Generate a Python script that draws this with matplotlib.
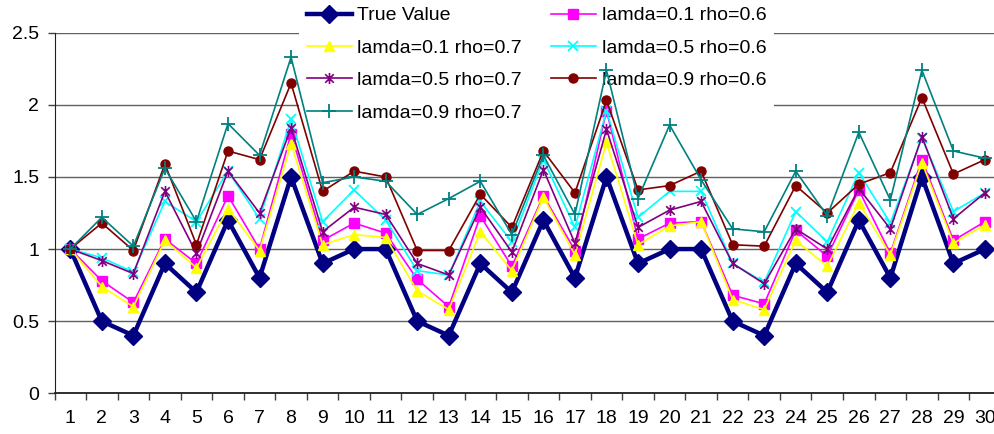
import numpy as np
import matplotlib
matplotlib.use("Agg")
from matplotlib import pyplot as plt
from matplotlib.path import Path

plt.rcParams['font.family'] = ['Liberation Sans', 'DejaVu Sans']

x = np.arange(1, 31)

true_value = [1, .5, .4, .9, .7, 1.2, .8, 1.5, .9, 1, 1, .5, .4, .9, .7, 1.2, .8, 1.5, .9, 1,
              1, .5, .4, .9, .7, 1.2, .8, 1.5, .9, 1]
l01_r06 = [1.0, 0.78, 0.63, 1.07, 0.90, 1.37, 1.0, 1.80, 1.06, 1.18, 1.11, 0.79, 0.60, 1.23, 0.88,
           1.37, 0.99, 1.96, 1.07, 1.18, 1.19, 0.68, 0.62, 1.13, 0.95, 1.41, 0.97, 1.62, 1.06, 1.19]
l01_r07 = [1.0, 0.74, 0.60, 1.06, 0.87, 1.28, 0.99, 1.73, 1.03, 1.10, 1.08, 0.71, 0.58, 1.12, 0.85,
           1.36, 0.96, 1.74, 1.03, 1.16, 1.19, 0.65, 0.58, 1.06, 0.88, 1.32, 0.96, 1.60, 1.04, 1.17]
l05_r06 = [1.0, 0.94, 0.84, 1.33, 1.19, 1.54, 1.21, 1.90, 1.19, 1.41, 1.20, 0.85, 0.82, 1.33, 1.05,
           1.62, 1.15, 1.96, 1.22, 1.40, 1.40, 0.90, 0.77, 1.26, 1.05, 1.53, 1.18, 1.77, 1.26, 1.39]
l05_r07 = [1.0, 0.92, 0.83, 1.40, 0.97, 1.54, 1.25, 1.84, 1.12, 1.29, 1.24, 0.90, 0.82, 1.29, 0.98,
           1.55, 1.04, 1.83, 1.15, 1.27, 1.33, 0.90, 0.76, 1.14, 1.00, 1.42, 1.14, 1.78, 1.21, 1.39]
l09_r06 = [1.0, 1.18, 0.99, 1.59, 1.03, 1.68, 1.62, 2.15, 1.40, 1.54, 1.50, 0.99, 0.99, 1.38, 1.15,
           1.68, 1.39, 2.03, 1.41, 1.44, 1.54, 1.03, 1.02, 1.44, 1.25, 1.45, 1.53, 2.05, 1.52, 1.62]
l09_r07 = [1.0, 1.22, 1.02, 1.56, 1.19, 1.87, 1.65, 2.33, 1.46, 1.50, 1.47, 1.24, 1.35, 1.47, 1.10,
           1.65, 1.24, 2.24, 1.35, 1.86, 1.48, 1.14, 1.12, 1.54, 1.23, 1.81, 1.34, 2.24, 1.68, 1.63]

# asterisk: x plus a vertical bar
star = Path([(-1, -1), (1, 1), (-1, 1), (1, -1), (0, -1.3), (0, 1.3)],
            [Path.MOVETO, Path.LINETO, Path.MOVETO, Path.LINETO, Path.MOVETO, Path.LINETO])

series = [
	("True Value", true_value, dict(color='#000080', marker='D', ms=9, lw=3.2)),
	("lamda=0.1 rho=0.6", l01_r06, dict(color='#FF00FF', marker='s', ms=6.5, lw=1.2)),
	("lamda=0.1 rho=0.7", l01_r07, dict(color='#FFFF00', marker='^', ms=7.5, lw=1.2)),
	("lamda=0.5 rho=0.6", l05_r06, dict(color='#00FFFF', marker='x', ms=7, mew=1.3, lw=1.2)),
	("lamda=0.5 rho=0.7", l05_r07, dict(color='#800080', marker=star, ms=8, mew=1.2, lw=1.2)),
	("lamda=0.9 rho=0.6", l09_r06, dict(color='#800000', marker='o', ms=6.5, lw=1.2)),
	("lamda=0.9 rho=0.7", l09_r07, dict(color='#008080', marker='+', ms=10, mew=1.3, lw=1.2)),
]

fig = plt.figure(figsize=(9.94, 4.34), dpi=100)
ax = fig.add_axes([54.5 / 994, (434 - 393.3) / 434, (1000.75 - 54.5) / 994, (393.3 - 32.7) / 434])

handles = {}
for i, (label, y, style) in enumerate(series):
	h, = ax.plot(x, y, label=label, zorder=3 + i, **style)
	handles[label] = h

ax.set_xlim(0.5, 30.5)
ax.set_ylim(0, 2.5)
ax.set_yticks(np.arange(0, 2.51, 0.5))
ax.set_yticklabels(["0", "0.5", "1", "1.5", "2", "2.5"])
ax.set_xticks(x)
ax.set_xticks(np.arange(0.5, 31, 1), minor=True)
ax.tick_params(axis='x', which='major', length=0, labelsize=14, pad=12)
ax.tick_params(axis='x', which='minor', length=5, width=1, color='#404040')
ax.tick_params(axis='y', length=5, width=1, labelsize=14, pad=6, color='#404040')

ax.set_axisbelow(True)
ax.yaxis.grid(True, color='#606060', lw=1)
for side in ('top', 'right'):
	ax.spines[side].set_visible(False)
ax.spines['left'].set_color('#202020')
ax.spines['bottom'].set_color('#202020')
ax.spines['bottom'].set_linewidth(1.3)

# two columns filled row by row
order = ["True Value", "lamda=0.1 rho=0.7", "lamda=0.5 rho=0.7", "lamda=0.9 rho=0.7",
         "lamda=0.1 rho=0.6", "lamda=0.5 rho=0.6", "lamda=0.9 rho=0.6"]
leg = ax.legend([handles[k] for k in order], order, ncol=2, loc='upper left',
                bbox_to_anchor=(299 / 994, 1 + 1 / 434), bbox_transform=fig.transFigure,
                fontsize=14, frameon=True, fancybox=False, framealpha=1,
                edgecolor='none', facecolor='white', borderpad=0.4,
                handlelength=2.3, handletextpad=0.3, columnspacing=1.5,
                labelspacing=0.76, borderaxespad=0)
leg.set_zorder(2)

fig.savefig("out.png", dpi=100)
